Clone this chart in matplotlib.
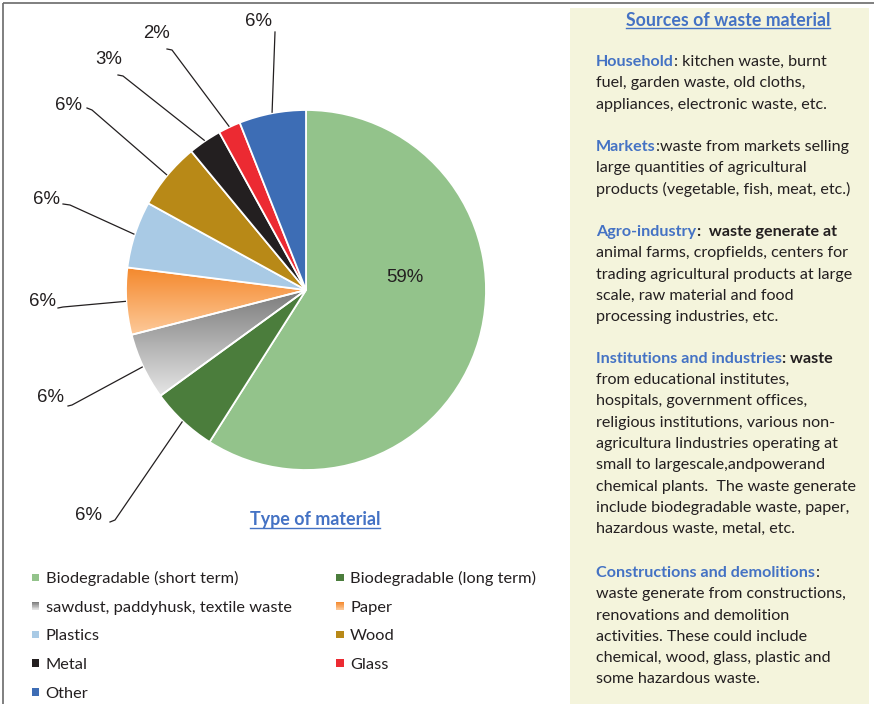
import numpy as np
import matplotlib
matplotlib.use("Agg")
import matplotlib.pyplot as plt
from matplotlib.patches import Rectangle
from matplotlib.legend_handler import HandlerBase
from matplotlib.colors import to_rgb

# ---------------- data ----------------
categories = ["Biodegradable (short term)", "Biodegradable (long term)",
              "sawdust, paddyhusk, textile waste", "Paper", "Plastics", "Wood",
              "Metal", "Glass", "Other"]
shares = [59, 6, 6, 6, 6, 6, 3, 2, 6]
pct_labels = [f"{v}%" for v in shares]

chart_title = "Type of material"
panel_title = "Sources of waste material"
panel_blocks = [
    [[("Household", "h"), (": kitchen waste, burnt", "n")],
     [("fuel, garden waste, old cloths,", "n")],
     [("appliances, electronic waste, etc.", "n")]],
    [[("Markets", "h"), (":waste from markets selling", "n")],
     [("large quantities of agricultural", "n")],
     [("products (vegetable, fish, meat, etc.)", "n")]],
    [[("Agro-industry", "h"), (":  waste generate at", "b")],
     [("animal farms, cropfields, centers for", "n")],
     [("trading agricultural products at large", "n")],
     [("scale, raw material and food", "n")],
     [("processing industries, etc.", "n")]],
    [[("Institutions and industries", "h"), (": waste", "b")],
     [("from educational institutes,", "n")],
     [("hospitals, government offices,", "n")],
     [("religious institutions, various non-", "n")],
     [("agricultura lindustries operating at", "n")],
     [("small to largescale,andpowerand", "n")],
     [("chemical plants.  The waste generate", "n")],
     [("include biodegradable waste, paper,", "n")],
     [("hazardous waste, metal, etc.", "n")]],
    [[("Constructions and demolitions", "h"), (":", "n")],
     [("waste generate from constructions,", "n")],
     [("renovations and demolition", "n")],
     [("activities. These could include", "n")],
     [("chemical, wood, glass, plastic and", "n")],
     [("some hazardous waste.", "n")]],
]

# ---------------- style ----------------
slice_colors = ["#93c38b", "#4b7d3c", ("#7b7b7b", "#e6e6e6"), ("#f4882c", "#fdca9a"),
                "#a9cae5", "#b88917", "#231f20", "#ec2a32", "#3d6db5"]
BLUE = "#4472c4"
TXT = "#231f20"
W, H = 874, 704
CX, CY, R = 306, 290, 180
# label layout (pixels): text centre, leader start, leader elbow
label_xy = [(405, 278), (88, 515), (50, 398), (42, 302), (46, 199), (69, 105), (109, 60), (157, 33), (258, 22)]
lead_start = [None, (110, 522), (68, 406), (58, 308), (63, 204), (87, 108), (118, 75), (167, 49), (275, 32)]
lead_elbow = [None, (115, 520), (72, 405), (63, 307), (70, 205), (92, 110), (123, 76), (172, 50), None]
block_y = [62, 147, 232, 359, 573]
line_pitch = 21.25
panel_x = 596

fig = plt.figure(figsize=(W / 100, H / 100), dpi=100)
ax = fig.add_axes([0, 0, 1, 1])
ax.set_xlim(0, W)
ax.set_ylim(H, 0)
renderer = fig.canvas.get_renderer()


def text_width(s, **kw):
    t = fig.text(0, 0, s, **kw)
    w = t.get_window_extent(renderer).width
    t.remove()
    return w


def fit(s, target, **kw):
    return 20 * target / text_width(s, fontsize=20, **kw)


SANS = "Lato"
ARIAL = "Liberation Sans"

# ---------------- frame & panel ----------------
ax.add_patch(Rectangle((570, 8), 299, 700, facecolor="#f4f4dc", edgecolor="none", zorder=0))
ax.plot([3, W + 5], [3, 3], color="#6a6a6a", lw=1.2, solid_capstyle="butt", zorder=5)
ax.plot([3, 3], [3, H + 5], color="#6a6a6a", lw=1.2, solid_capstyle="butt", zorder=5)

# ---------------- pie ----------------
mid_cols = []
for c in slice_colors:
    if isinstance(c, tuple):
        a, b = np.array(to_rgb(c[0])), np.array(to_rgb(c[1]))
        mid_cols.append(tuple((a + b) / 2))
    else:
        mid_cols.append(c)

wedges, _ = ax.pie(shares, colors=mid_cols, startangle=-90, counterclock=True,
                   radius=R, center=(CX, CY), frame=True,
                   wedgeprops=dict(edgecolor="white", linewidth=1.3, zorder=2))

for w, c in zip(wedges, slice_colors):
    if isinstance(c, tuple):
        th = np.radians(np.linspace(w.theta1, w.theta2, 200))
        xs = np.r_[CX, CX + R * np.cos(th)]
        ys = np.r_[CY, CY + R * np.sin(th)]
        c1, c2 = np.array(to_rgb(c[0])), np.array(to_rgb(c[1]))
        t = np.linspace(0, 1, 256)[:, None]
        grad = (c1 * (1 - t) + c2 * t)[:, None, :]
        im = ax.imshow(grad, extent=(xs.min(), xs.max(), ys.max(), ys.min()),
                       origin="upper", aspect="auto", zorder=1.5, interpolation="bilinear")
        im.set_clip_path(w)
        w.set_facecolor("none")

ax.set_xlim(0, W)
ax.set_ylim(H, 0)
ax.axis("off")

# percentage labels and leader lines
pct_fs = fit("6%", 27, family=ARIAL)
for i, (w, lab) in enumerate(zip(wedges, pct_labels)):
    tx, ty = label_xy[i]
    ax.text(tx, ty, lab, ha="center", va="center", fontsize=pct_fs, family=ARIAL, color=TXT, zorder=6)
    if lead_start[i] is not None:
        tm = np.radians((w.theta1 + w.theta2) / 2)
        ex, ey = CX + (R + 1) * np.cos(tm), CY + (R + 1) * np.sin(tm)
        pts = [lead_start[i]] + ([lead_elbow[i]] if lead_elbow[i] else []) + [(ex, ey)]
        ax.plot([p[0] for p in pts], [p[1] for p in pts], color=TXT, lw=0.9, zorder=6)


def underlined(x, y, s, fs, **kw):
    t = ax.text(x, y, s, fontsize=fs, **kw)
    bb = t.get_window_extent(renderer)
    ax.plot([bb.x0, bb.x1], [y + 2.6, y + 2.6], color=kw.get("color", BLUE), lw=1.0, zorder=6)
    return t


# chart title
tt_fs = fit(chart_title, 130, family=SANS, weight="bold")
underlined(315, 525, chart_title, tt_fs, family=SANS, weight="bold", color=BLUE, ha="center", va="baseline")

# ---------------- legend ----------------
class SquareHandler(HandlerBase):
    def __init__(self, col, size):
        super().__init__()
        self.col = col
        self.size = size

    def create_artists(self, legend, orig_handle, xdescent, ydescent, width, height, fontsize, trans):
        s = self.size
        x0 = -xdescent + (width - s) / 2
        y0 = -ydescent + (height - s) / 2
        if isinstance(self.col, tuple):
            c1, c2 = np.array(to_rgb(self.col[0])), np.array(to_rgb(self.col[1]))
            n = 12
            arts = []
            for k in range(n):
                f = 1 - (k + 0.5) / n
                col = c1 * (1 - f) + c2 * f
                arts.append(Rectangle((x0, y0 + k * s / n), s, s / n + 0.05, facecolor=col,
                                      edgecolor="none", transform=trans))
            return arts
        return [Rectangle((x0, y0), s, s, facecolor=self.col, edgecolor="none", transform=trans)]


leg_fs = fit("Biodegradable (short term)", 192, family=SANS)
fs_px = leg_fs * 100 / 72
sq_pt = 7.5 * 72 / 100
proxies = [Rectangle((0, 0), 1, 1, label=cat) for cat in categories]
hmap = {p: SquareHandler(c, sq_pt) for p, c in zip(proxies, slice_colors)}
order = [0, 2, 4, 6, 8, 1, 3, 5, 7]
col1_w = text_width(categories[2], fontsize=leg_fs, family=SANS)
handle_px = 8
pad_px = 6
colsp_px = 336 - (31.5 + handle_px + pad_px + col1_w)
leg = ax.legend([proxies[i] for i in order], [categories[i] for i in order], handler_map=hmap,
                ncol=2, frameon=False, loc="upper left",
                bbox_to_anchor=(31.5, 571), bbox_transform=ax.transData,
                borderpad=0, borderaxespad=0, handlelength=handle_px / fs_px, handleheight=0.7,
                handletextpad=pad_px / fs_px, columnspacing=colsp_px / fs_px,
                labelspacing=(28.6 + 5.2 - 1.2 * fs_px) / fs_px,
                prop=dict(family=SANS, size=leg_fs))
for t in leg.get_texts():
    t.set_color(TXT)

# ---------------- right panel ----------------
pt_fs = fit(panel_title, 204, family=SANS, weight="bold")
underlined(728, 25.5, panel_title, pt_fs, family=SANS, weight="bold", color=BLUE, ha="center", va="baseline")

body_fs = fit("appliances, electronic waste, etc.", 232, family=SANS)
styles = {"h": dict(color=BLUE, weight="bold"), "n": dict(color=TXT, weight="normal"),
          "b": dict(color=TXT, weight="bold")}
for by, block in zip(block_y, panel_blocks):
    for li, line in enumerate(block):
        y = by + li * line_pitch
        x = panel_x
        for piece, st in line:
            t = ax.text(x, y, piece, fontsize=body_fs, family=SANS, ha="left", va="center", **styles[st])
            x += t.get_window_extent(renderer).width + 0.5

fig.savefig("out.png", dpi=100)
